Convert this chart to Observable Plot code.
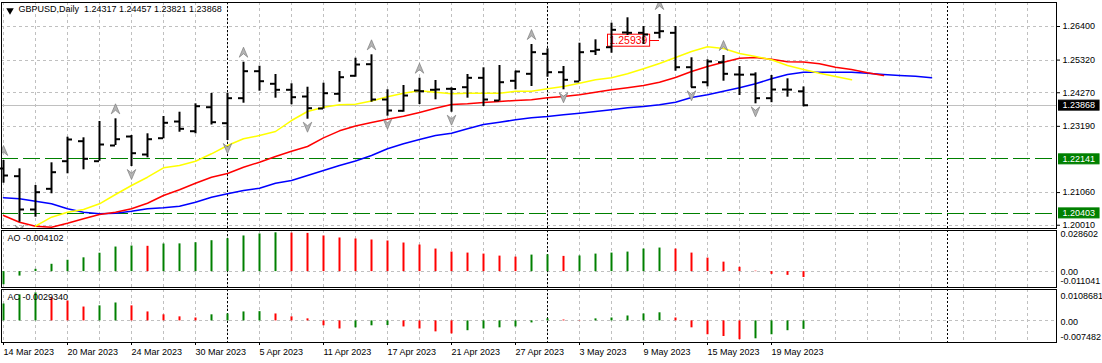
<!DOCTYPE html>
<html>
<head>
<meta charset="utf-8">
<script src="https://cdn.jsdelivr.net/npm/d3@7"></script>
<script src="https://cdn.jsdelivr.net/npm/@observablehq/plot@0.6"></script>
<style>
  html, body { margin: 0; padding: 0; background: #fff; }
  #chart { position: relative; width: 1102px; height: 363px; overflow: hidden; background: #fff; }
  #chart svg { position: absolute; left: 0; }
</style>
</head>
<body>
<div id="chart"></div>
<script>
// ---------------- data ----------------
const symbolName = "GBPUSD";
const timeframe = "Daily";

// daily bars, 14 Mar 2023 .. 23 May 2023 (index 0..50)
const opens = [1.21834,1.21587,1.20516,1.21181,1.22069,1.22712,1.22069,1.22574,1.22863,1.22284,
  1.22808,1.23345,1.23033,1.23805,1.23291,1.24095,1.24963,1.24558,1.24365,1.24149,
  1.23763,1.24236,1.24815,1.25188,1.24053,1.23689,1.24342,1.24365,1.24397,1.24448,
  1.24750,1.24020,1.24654,1.24879,1.25522,1.24931,1.24632,1.25606,1.25734,1.26207,
  1.26197,1.26197,1.26197,1.25091,1.24609,1.25252,1.24857,1.24857,1.24095,1.24374,1.24317];
const highs = [1.22091,1.21824,1.21287,1.22017,1.22841,1.22821,1.23345,1.23432,1.22895,1.22950,
  1.23506,1.23644,1.23914,1.24246,1.24255,1.25252,1.25123,1.24857,1.24558,1.24448,
  1.24577,1.24953,1.25381,1.25490,1.24365,1.24503,1.24738,1.24664,1.24429,1.24857,
  1.25072,1.25146,1.24963,1.25821,1.25683,1.25114,1.25863,1.25972,1.26506,1.26680,
  1.26400,1.26786,1.26400,1.25394,1.25329,1.25468,1.25114,1.24911,1.24824,1.24718,1.24457];
const lows = [1.21361,1.20107,1.20268,1.21021,1.21664,1.21792,1.22069,1.22574,1.21898,1.22178,
  1.22789,1.23001,1.22950,1.23233,1.22734,1.23934,1.24320,1.24095,1.23882,1.23419,
  1.23741,1.23966,1.24770,1.23966,1.23516,1.23644,1.23892,1.24043,1.23644,1.24095,
  1.23828,1.23998,1.24365,1.24471,1.24770,1.24365,1.24632,1.25468,1.25541,1.26111,
  1.25821,1.26004,1.24963,1.24429,1.24460,1.24641,1.24181,1.23914,1.23950,1.24127,1.23821];
const closes = [1.21609,1.20516,1.21072,1.21715,1.22767,1.22146,1.22606,1.22776,1.22326,1.22776,
  1.23304,1.23111,1.23837,1.23323,1.24095,1.24963,1.24641,1.24365,1.24127,1.23773,
  1.24255,1.24770,1.25178,1.24053,1.23699,1.24181,1.24320,1.24375,1.24390,1.24750,
  1.24053,1.24609,1.24953,1.25574,1.24931,1.24686,1.25574,1.25651,1.26294,1.26197,
  1.26143,1.26249,1.25091,1.24448,1.25275,1.24879,1.24850,1.24095,1.24374,1.24370,1.23868];

// Alligator lines, starting bar index given
const jawStart = 0;
const jaw = [1.20892,1.20860,1.20783,1.20699,1.20538,1.20429,1.20377,1.20397,1.20461,1.20538,
  1.20570,1.20622,1.20750,1.20911,1.21021,1.21127,1.21201,1.21361,1.21448,1.21609,
  1.21770,1.21931,1.22075,1.22252,1.22468,1.22628,1.22767,1.22895,1.22969,1.23111,
  1.23249,1.23323,1.23400,1.23464,1.23506,1.23561,1.23612,1.23667,1.23722,1.23786,
  1.23828,1.23882,1.23966,1.24117,1.24204,1.24320,1.24429,1.24558,1.24718,1.24857,
  1.24931,1.24931,1.24931,1.24931,1.24898,1.24857,1.24824,1.24802,1.24750];
const teethStart = 0;
const teeth = [1.20323,1.20107,1.19979,1.19947,1.20075,1.20217,1.20355,1.20429,1.20538,1.20718,
  1.20966,1.21149,1.21361,1.21554,1.21673,1.21876,1.22037,1.22220,1.22390,1.22541,
  1.22821,1.23046,1.23201,1.23313,1.23419,1.23513,1.23635,1.23773,1.23892,1.23914,
  1.23956,1.23988,1.24021,1.24043,1.24107,1.24149,1.24204,1.24287,1.24365,1.24429,
  1.24503,1.24609,1.24760,1.24953,1.25114,1.25252,1.25381,1.25403,1.25345,1.25265,
  1.25259,1.25201,1.25091,1.25017,1.24911,1.24824];
const lipsStart = 2;
const lips = [1.19979,1.20268,1.20429,1.20516,1.20699,1.20998,1.21287,1.21554,1.21857,1.21931,
  1.22069,1.22307,1.22574,1.22789,1.22895,1.23024,1.23377,1.23667,1.23805,1.23882,
  1.23898,1.24005,1.24140,1.24255,1.24332,1.24287,1.24236,1.24255,1.24255,1.24255,
  1.24320,1.24320,1.24397,1.24471,1.24577,1.24686,1.24750,1.24879,1.25040,1.25210,
  1.25403,1.25596,1.25747,1.25693,1.25532,1.25435,1.25329,1.25146,1.25017,1.24898,
  1.24792,1.24686];

// fractal bars
const fractalUp = [0, 7, 15, 23, 26, 33, 41, 45];
const fractalDown = [1, 8, 14, 19, 24, 28, 35, 43, 47];

// Awesome Oscillator and Accelerator Oscillator
const aoValues = [-0.00912,-0.0031,0.0016,0.0051,0.0079,0.0096,0.0128,0.0171,0.0178,0.0176,
  0.0192,0.0193,0.0201,0.0215,0.0229,0.0248,0.0262,0.0270,0.0268,0.0266,
  0.0248,0.0234,0.0227,0.0220,0.0213,0.0199,0.0185,0.0157,0.0136,0.0129,
  0.0122,0.0108,0.0101,0.0115,0.0117,0.0106,0.0109,0.0122,0.0129,0.0136,
  0.0157,0.0164,0.0157,0.0129,0.0094,0.0066,0.0030,0.0003,-0.0019,-0.0026,-0.004102];
const acValues = [0.00585,0.0090,0.0097,0.0080,0.0069,0.0048,0.0052,0.0062,0.0052,0.0031,
  0.0021,0.0014,0.0010,0.0021,0.0024,0.0031,0.0032,0.0024,0.0014,0.0007,
  -0.0017,-0.0028,-0.0024,-0.0017,-0.0016,-0.0021,-0.0028,-0.0038,-0.0045,-0.0034,
  -0.0028,-0.0024,-0.0021,-0.0007,0.0007,0.0003,0.0001,0.0007,0.0010,0.0017,
  0.0024,0.0028,0.0010,-0.0024,-0.0048,-0.0054,-0.0065,-0.0062,-0.0048,-0.0034,-0.002934];

// axes / annotations
const dateTickIndex = [0, 4, 8, 12, 16, 20, 24, 28, 32, 36, 40, 44, 48];
const dateTickLabels = ["14 Mar 2023","20 Mar 2023","24 Mar 2023","30 Mar 2023","5 Apr 2023","11 Apr 2023",
  "17 Apr 2023","21 Apr 2023","27 Apr 2023","3 May 2023","9 May 2023","15 May 2023","19 May 2023"];
const priceTicks = [1.26400, 1.25320, 1.24270, 1.23190, 1.21060, 1.20010];
const levelLines = [1.22141, 1.20403];
const monthStartIndex = [14, 34, 59];
const priceLabelValue = 1.25939;
const priceLabelFrom = 38;
const priceLabelTo = 41;
const priceRange = [1.19905, 1.27172];
const aoRange = [-0.011041, 0.028602];
const acRange = [-0.007482, 0.0108681];

// ---------------- drawing ----------------
const GREEN = "#008000", RED = "#ff0000", GRID = "#c0c0c0";
// marker colours used to find texts that get a background box
const LEVEL_TXT = "#fefefe", PRICE_TXT = "#fdfdfd", LABEL_TXT = "#fe0000";
const W = 1102;
const xDomain = [-0.125, 65.8125];
const gridIdx = d3.range(0, 66, 2);
const fmt5 = d3.format(".5f");
const bars = opens.map((o, i) => ({i, open: o, high: highs[i], low: lows[i], close: closes[i]}));
const series = (arr, start) => arr.map((v, k) => ({i: start + k, v}));
const colored = arr => arr.map((v, i) => ({i, v, c: (i === 0 || v >= arr[i - 1]) ? GREEN : RED}));
const last = bars[bars.length - 1];
const font = "'Liberation Sans', Arial, sans-serif";
const crisp = {shapeRendering: "crispEdges"};

function base(height, mt, mb, overflow) {
  return {width: W, height, marginLeft: 1, marginRight: 46, marginTop: mt, marginBottom: mb,
    color: {type: "identity"},
    style: {fontFamily: font, fontSize: "9px", background: "transparent", color: "black", overflow}};
}

const arrowSymbol = {
  draw(ctx, size) {
    const s = Math.sqrt(size / Math.PI);
    ctx.moveTo(0, -s);
    ctx.lineTo(s * 0.85, s);
    ctx.lineTo(0, s * 0.3);
    ctx.lineTo(-s * 0.85, s);
    ctx.closePath();
  }
};

const titleText = `${symbolName},${timeframe}\u00a0 ${fmt5(last.open)} ${fmt5(last.high)} ${fmt5(last.low)} ${fmt5(last.close)}`;

const main = Plot.plot({
  ...base(229, 2, 1, "hidden"),
  x: {domain: xDomain, axis: null},
  y: {domain: priceRange},
  marks: [
    Plot.ruleX(gridIdx, {stroke: GRID, strokeDasharray: "3,3", ...crisp}),
    Plot.ruleY(priceTicks, {stroke: GRID, strokeDasharray: "3,3", ...crisp}),
    Plot.ruleX(monthStartIndex, {stroke: "black", strokeDasharray: "2,2", ...crisp}),
    Plot.ruleY([last.close], {stroke: GRID, ...crisp}),
    Plot.ruleY(levelLines, {stroke: GREEN, strokeDasharray: "17,5", ...crisp}),
    Plot.line(series(jaw, jawStart), {x: "i", y: "v", stroke: "#0000ff", clip: true}),
    Plot.line(series(teeth, teethStart), {x: "i", y: "v", stroke: RED, clip: true}),
    Plot.line(series(lips, lipsStart), {x: "i", y: "v", stroke: "#ffff00", clip: true}),
    Plot.ruleY([priceLabelValue], {y: d => d, x1: () => priceLabelFrom, x2: () => priceLabelTo, stroke: RED, ...crisp}),
    Plot.text([priceLabelValue], {x: () => priceLabelFrom, y: d => d, text: fmt5, textAnchor: "start",
      dx: -2, fill: LABEL_TXT, fontSize: 10.5}),
    Plot.ruleX(bars, {x: "i", y1: "low", y2: "high", stroke: "black", strokeWidth: 2}),
    Plot.ruleY(bars, {y: "open", x1: d => d.i - 0.3125, x2: "i", stroke: "black", strokeWidth: 2}),
    Plot.ruleY(bars, {y: "close", x1: "i", x2: d => d.i + 0.3125, stroke: "black", strokeWidth: 2}),
    Plot.dot(fractalUp, {x: d => d, y: d => highs[d], dy: -10, r: 5, symbol: arrowSymbol,
      fill: "#b4b4b4", stroke: "#7c7c7c", strokeWidth: 0.7, clip: true}),
    Plot.dot(fractalDown, {x: d => d, y: d => lows[d], dy: 8, r: 5, symbol: arrowSymbol, rotate: 180,
      fill: "#b4b4b4", stroke: "#7c7c7c", strokeWidth: 0.7, clip: true}),
    Plot.axisY({anchor: "right", ticks: priceTicks, tickFormat: fmt5, tickSize: 3, tickPadding: 3, label: null}),
    Plot.text(levelLines, {y: d => d, frameAnchor: "right", dx: 6, textAnchor: "start", text: fmt5, fill: LEVEL_TXT}),
    Plot.text([last.close], {y: d => d, frameAnchor: "right", dx: 6, textAnchor: "start", text: fmt5, fill: PRICE_TXT}),
    Plot.dot([0], {frameAnchor: "top-left", dx: 8.5, dy: 8, r: 2.8, symbol: "triangle", rotate: 180, fill: "black"}),
    Plot.text([titleText], {frameAnchor: "top-left", dx: 17, dy: 3, textAnchor: "start", lineAnchor: "top", fill: "black"}),
    Plot.frame({stroke: "black", ...crisp})
  ]
});

function oscPlot(values, range, name, digits, height, mb, labelDy, withAxis) {
  const data = colored(values);
  const marks = [
    Plot.ruleX(gridIdx, {stroke: GRID, strokeDasharray: "3,3", ...crisp}),
    Plot.ruleY([0], {stroke: GRID, strokeDasharray: "3,3", ...crisp}),
    Plot.ruleX(monthStartIndex, {stroke: "black", strokeDasharray: "2,2", ...crisp}),
    Plot.ruleX(data, {x: "i", y1: () => 0, y2: "v", stroke: "c", strokeWidth: 2}),
    Plot.text([`${name} ${values[values.length - 1].toFixed(digits)}`], {frameAnchor: "top-left", dx: 6, dy: 4,
      textAnchor: "start", lineAnchor: "top", fill: "black"}),
    Plot.text([range[1]], {y: d => d, frameAnchor: "right", dx: 4, textAnchor: "start", lineAnchor: "top",
      dy: labelDy[0], text: d => String(d), fill: "black"}),
    Plot.text([0], {y: d => d, frameAnchor: "right", dx: 4, textAnchor: "start", lineAnchor: "middle",
      dy: labelDy[1], text: () => "0.00", fill: "black"}),
    Plot.text([range[0]], {y: d => d, frameAnchor: "right", dx: 4, textAnchor: "start", lineAnchor: "bottom",
      dy: labelDy[2], text: d => String(d), fill: "black"}),
    Plot.frame({stroke: "black", ...crisp})
  ];
  if (withAxis) {
    marks.push(Plot.axisX({anchor: "bottom", ticks: dateTickIndex, tickFormat: (d) => dateTickLabels[dateTickIndex.indexOf(d)],
      tickSize: 3, tickPadding: 3, textAnchor: "start", dx: 0, label: null}));
  }
  return Plot.plot({
    ...base(height, 1, mb, "visible"),
    x: {domain: xDomain, axis: null},
    y: {domain: range, axis: null},
    marks
  });
}

const ao = oscPlot(aoValues, aoRange, "AO", 6, 59, 1, [0, 0, -4], false);
const ac = oscPlot(acValues, acRange, "AC", 7, 75, 21, [3, 1, -3], true);

const root = document.getElementById("chart");
main.style.top = "0px"; ao.style.top = "229px"; ac.style.top = "288px";
root.append(main, ao, ac);

function rgbOf(c) { const k = d3.rgb(c); return `rgb(${k.r}, ${k.g}, ${k.b})`; }
function boxes(svg, markerColor, fill, stroke, padX, textFill) {
  const want = rgbOf(markerColor);
  svg.querySelectorAll("text").forEach(t => {
    if (getComputedStyle(t).fill !== want) return;
    const b = t.getBBox();
    const r = document.createElementNS("http://www.w3.org/2000/svg", "rect");
    r.setAttribute("x", b.x - padX);
    r.setAttribute("y", b.y);
    r.setAttribute("width", b.width + 2 * padX);
    r.setAttribute("height", b.height);
    r.setAttribute("fill", fill);
    r.setAttribute("stroke", stroke);
    const tr = t.getAttribute("transform");
    if (tr) r.setAttribute("transform", tr);
    t.parentNode.insertBefore(r, t);
    t.setAttribute("fill", textFill);
    t.style.fill = textFill;
  });
}
boxes(main, LEVEL_TXT, GREEN, GREEN, 4, "#ffffff");
boxes(main, PRICE_TXT, "black", "black", 4, "#ffffff");
boxes(main, LABEL_TXT, "white", RED, 2, RED);
</script>
</body>
</html>
